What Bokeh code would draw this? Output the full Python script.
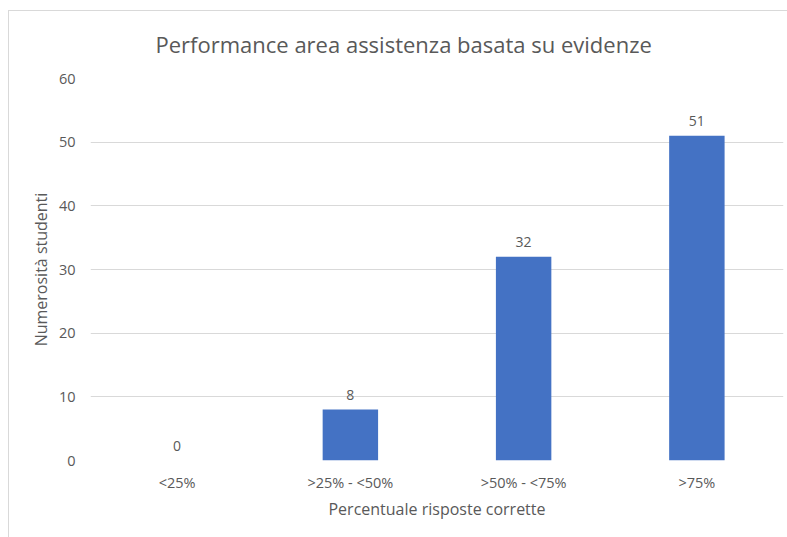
from bokeh.plotting import figure
from bokeh.models import ColumnDataSource, LabelSet, Title
from bokeh.embed import file_html
from bokeh.resources import INLINE
from bokeh.core.properties import value

categories = ["<25%", ">25% - <50%", ">50% - <75%", ">75%"]
counts = [0, 8, 32, 51]
labels = [str(c) for c in counts]
title_text = "Performance area assistenza basata su evidenze"

source = ColumnDataSource(data=dict(cat=categories, val=counts, lab=labels))

FONT = "Open Sans"
GRAY = "#595959"

p = figure(x_range=categories, y_range=(0, 60), width=779, height=533,
           output_backend="svg", toolbar_location=None,
           min_border_left=82, min_border_right=4, min_border_top=74, min_border_bottom=77)
p.border_fill_color = None
p.background_fill_color = None
p.styles = {
    "margin-top": "4px", "margin-left": "8px",
    "background": ("linear-gradient(#d9d9d9, #d9d9d9) 0 6px / 100% 1px no-repeat, "
                   "linear-gradient(#d9d9d9, #d9d9d9) 0 6px / 1px 100% no-repeat, white"),
}

p.vbar(x="cat", top="val", width=0.32, source=source, color="#4472c4", line_color=None)

lbl = LabelSet(x="cat", y="val", text="lab", source=source, text_align="center",
               text_baseline="bottom", y_offset=10, text_font_size="14px",
               text_color=GRAY, text_font=value(FONT))
p.add_layout(lbl)

t = Title(text=title_text, align="left",
          offset=65, text_font_size="22px", text_font=FONT, text_font_style="normal",
          text_color=GRAY, standoff=40)
p.add_layout(t, "above")

p.outline_line_color = None
p.xgrid.grid_line_color = None
p.ygrid.grid_line_color = "#d9d9d9"
p.ygrid.grid_line_width = 1
p.yaxis.ticker = [0, 10, 20, 30, 40, 50, 60]

for ax in (p.xaxis, p.yaxis):
    ax.axis_line_color = None
    ax.major_tick_line_color = None
    ax.minor_tick_line_color = None
    ax.major_tick_out = 0
    ax.major_tick_in = 0
    ax.minor_tick_out = 0
    ax.major_label_text_font = FONT
    ax.major_label_text_font_size = "14.5px"
    ax.major_label_text_color = GRAY
    ax.axis_label_text_font = FONT
    ax.axis_label_text_font_size = "16px"
    ax.axis_label_text_font_style = "normal"
    ax.axis_label_text_color = GRAY

p.yaxis.major_label_standoff = 15
p.xaxis.major_label_standoff = 12
p.yaxis.axis_label = "Numerosità studenti"
p.xaxis.axis_label = "Percentuale risposte corrette"
p.yaxis.axis_label_standoff = 4
p.xaxis.axis_label_standoff = 3
p.x_range.range_padding = 0

open("out.html", "w").write(file_html(p, INLINE))
